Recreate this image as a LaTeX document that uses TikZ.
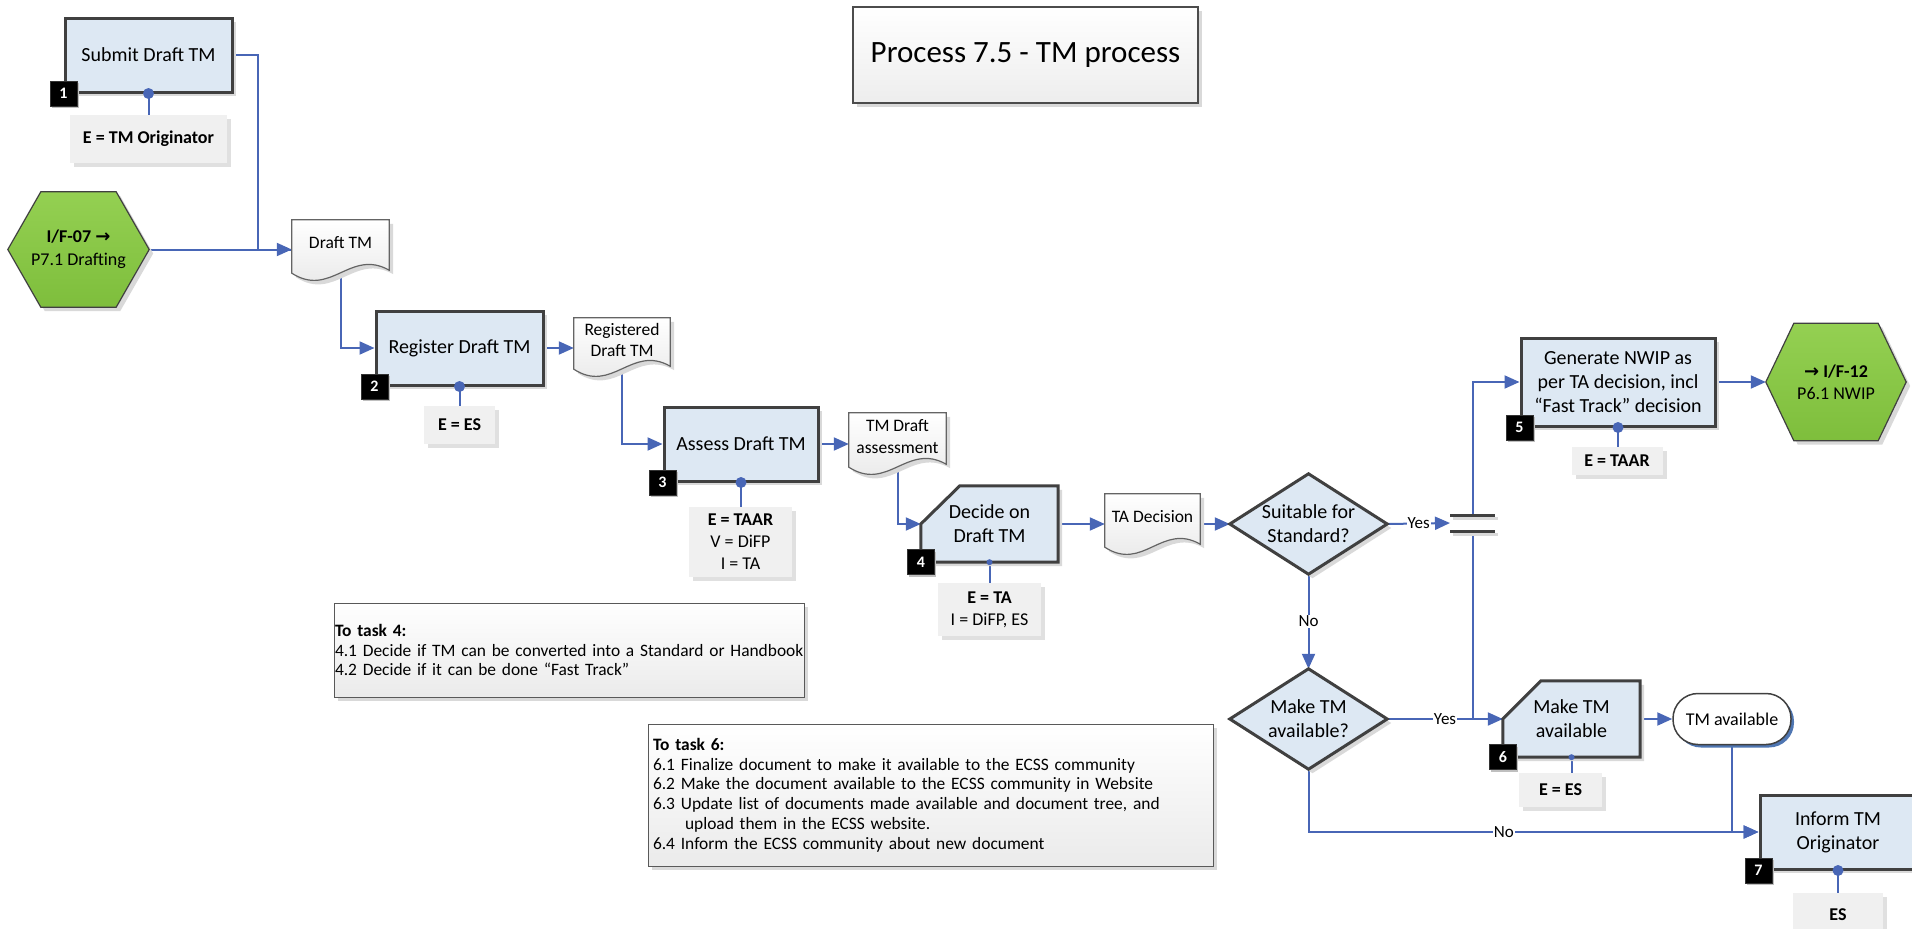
\documentclass[tikz,border=0pt]{standalone}
\usepackage{fontspec}
\setmainfont{Carlito}
\newfontfamily\dejavu{DejaVu Sans}
\usetikzlibrary{calc,shadows,arrows.meta}
\pgfdeclarelayer{bg}\pgfdeclarelayer{mid}\pgfsetlayers{bg,mid,main}
\definecolor{boxblue}{RGB}{221,232,243}
\definecolor{edgegray}{RGB}{64,64,64}
\definecolor{connblue}{RGB}{72,102,182}
\definecolor{rolefill}{RGB}{240,240,240}
\definecolor{hexgreen}{RGB}{148,208,82}
\definecolor{hexdark}{RGB}{126,190,60}
\definecolor{docedge}{RGB}{100,100,100}
\definecolor{termshadow}{RGB}{79,118,178}
\newcommand\fs[2]{\fontsize{#1}{#2}\selectfont}
\tikzset{
 shd/.style={drop shadow={shadow xshift=4pt,shadow yshift=-4pt,fill=black!15,opacity=1}},
 pbox/.style={rectangle, fill=boxblue, draw=edgegray, line width=3pt, shd, inner sep=0pt, align=center, font=\fs{20}{24}},
 ptext/.style={rectangle, inner sep=0pt, align=center, font=\fs{20}{24}},
 pshape/.style={fill=boxblue, draw=edgegray, line width=3pt, shd, line join=miter},
 rolebox/.style={rectangle, fill=rolefill, inner sep=0pt, align=center, font=\fs{18}{22}, drop shadow={shadow xshift=4pt,shadow yshift=-4pt,fill=black!12,opacity=1}},
 numbadge/.style={rectangle, fill=black, draw=black!80, line width=0.6pt, text=white, font=\bfseries\fs{16}{18}, minimum width=27pt, minimum height=25pt, inner sep=0pt, drop shadow={shadow xshift=2pt,shadow yshift=-2pt,fill=black!25,opacity=1}},
 dtext/.style={rectangle, inner sep=0pt, align=center, font=\fs{17.5}{21.5}},
 docshape/.style={top color=white, bottom color=black!10, draw=docedge, line width=1.2pt, shd},
 hexshape/.style={top color=hexgreen, bottom color=hexdark, draw=black!75, line width=1.2pt, shd},
 conn/.style={draw=connblue, line width=2pt},
 arr/.style={conn, -{Triangle[length=15pt,width=13pt]}},
 lbl/.style={fill=white, inner sep=1pt, font=\fs{17}{20}},
 notebox/.style={rectangle, draw=black!65, line width=1pt, top color=white, bottom color=black!8, shd, align=left, inner ysep=0pt, font=\fs{17.4}{19.8}},
 titlebox/.style={rectangle, draw=black!70, line width=1.2pt, top color=white, bottom color=black!7, shd, inner sep=0pt, font=\fs{31}{36}},
 term/.style={rectangle, rounded corners=25pt, draw=edgegray, line width=1.5pt, fill=white, inner sep=0pt, font=\fs{18}{22}, drop shadow={shadow xshift=3pt,shadow yshift=-3pt,fill=termshadow,opacity=1}},
}
\newcommand\mkdoc[1]{%
 \begin{pgfonlayer}{mid}
 \path[docshape] (#1.north west) -- (#1.north east) -- ($(#1.south east)+(0,4)$) .. controls ($(#1.south west)!0.6!(#1.south east)+(0,-18)$) and ($(#1.south west)!0.4!(#1.south east)+(0,32)$) .. ($(#1.south west)+(0,7)$) -- cycle;
 \end{pgfonlayer}}
\newcommand\mkhex[2]{%
 \begin{pgfonlayer}{mid}
 \path[hexshape] (#1.west) -- ($(#1.north west)+(#2,0)$) -- ($(#1.north east)+(-#2,0)$) -- (#1.east) -- ($(#1.south east)+(-#2,0)$) -- ($(#1.south west)+(#2,0)$) -- cycle;
 \end{pgfonlayer}}
\newcommand\mkdiam[1]{%
 \begin{pgfonlayer}{mid}
 \path[pshape] (#1.west) -- (#1.north) -- (#1.east) -- (#1.south) -- cycle;
 \end{pgfonlayer}}
\newcommand\mkchamf[2]{%
 \begin{pgfonlayer}{mid}
 \path[pshape] (#1.south west) -- (#1.west) -- ($(#1.north west)+(#2,0)$) -- (#1.north east) -- (#1.south east) -- cycle;
 \end{pgfonlayer}}
\begin{document}
\begin{tikzpicture}[x=1pt,y=-1pt]
\useasboundingbox (0,0) rectangle (1912,929);
\clip (0,0) rectangle (1912,929);

% title
\node[titlebox, minimum width=345, minimum height=96] (title) at (1025.5,55) {Process 7.5 - TM process};

% task 1
\node[pbox, minimum width=167, minimum height=74] (n1) at (148.5,55) {Submit Draft TM};
\node[rolebox, minimum width=157, minimum height=48] (r1) at (148.5,139) {\bfseries E = TM Originator};
\node[ptext, font=\fs{18}{23}, minimum width=141, minimum height=115] (h1) at (78.5,249.5) {\textbf{I/F-07 {\dejavu →}}\\P7.1 Drafting};
\mkhex{h1}{33}
\node[dtext, minimum width=97, minimum height=46] (d1) at (340.5,243) {Draft TM};
\mkdoc{d1}

% task 2
\node[pbox, minimum width=167, minimum height=74] (n2) at (459.5,348) {Register Draft TM};
\node[rolebox, minimum width=71, minimum height=38] (r2) at (459.5,425) {\bfseries E = ES};
\node[dtext, minimum width=96, minimum height=44] (d2) at (622,340) {Registered\\Draft TM};
\mkdoc{d2}

% task 3
\node[pbox, minimum width=154, minimum height=74] (n3) at (741,444) {Assess Draft TM};
\node[rolebox, minimum width=103, minimum height=70] (r3) at (740.5,542) {\textbf{E = TAAR}\\V = DiFP\\I = TA};
\node[dtext, minimum width=97, minimum height=47] (d3) at (897.5,436.5) {TM Draft\\assessment};
\mkdoc{d3}

% task 4
\node[ptext, minimum width=137, minimum height=76] (n4) at (989.5,524) {Decide on\\Draft TM};
\mkchamf{n4}{39}
\node[rolebox, minimum width=103, minimum height=53] (r4) at (989.5,609.5) {\textbf{E = TA}\\I = DiFP, ES};
\node[dtext, minimum width=95, minimum height=46] (d4) at (1152.5,517) {TA Decision};
\mkdoc{d4}

% decisions
\node[ptext, minimum width=157, minimum height=100] (s1) at (1308.5,524) {Suitable for\\Standard?};
\mkdiam{s1}
\node[ptext, minimum width=157, minimum height=100] (s2) at (1308.5,719) {Make TM\\available?};
\mkdiam{s2}

% task 5
\node[pbox, minimum width=194, minimum height=88] (n5) at (1618,382) {Generate NWIP as\\per TA decision, incl\\“Fast Track” decision};
\node[rolebox, minimum width=91, minimum height=28] (r5) at (1617,461) {\bfseries E = TAAR};
\node[ptext, font=\fs{18}{22}, minimum width=140, minimum height=117] (h2) at (1836,382) {\textbf{{\dejavu →} I/F-12}\\P6.1 NWIP};
\mkhex{h2}{28}

% task 6
\node[ptext, minimum width=137, minimum height=76] (n6) at (1571.5,719) {Make TM\\available};
\mkchamf{n6}{38}
\node[rolebox, minimum width=83, minimum height=34] (r6) at (1560.5,790) {\bfseries E = ES};
\node[term, minimum width=118, minimum height=51] (t1) at (1732,719) {TM available};

% task 7
\node[pbox, minimum width=156, minimum height=74] (n7) at (1838,832) {Inform TM\\Originator};
\node[rolebox, minimum width=90, minimum height=44] (r7) at (1838,915) {\bfseries ES};

% notes
\node[notebox, minimum height=94, text width=468, inner xsep=1] (note4) at (569,650) {\textbf{To task 4:}\\\mbox{4.1 Decide if TM can be converted into a Standard or Handbook}\\4.2 Decide if it can be done “Fast Track”};
\node[notebox, minimum height=142, text width=555, inner xsep=5] (note6) at (930.5,795) {\textbf{To task 6:}\\6.1 Finalize document to make it available to the ECSS community\\6.2 Make the document available to the ECSS community in Website\\6.3 Update list of documents made available and document tree, and\\\hspace*{32pt}upload them in the ECSS website.\\6.4 Inform the ECSS community about new document};

% badges
\node[numbadge] (b1) at (n1.south west) {1};
\node[numbadge] (b2) at (n2.south west) {2};
\node[numbadge] (b3) at (n3.south west) {3};
\node[numbadge] (b4) at (n4.south west) {4};
\node[numbadge] (b5) at (n5.south west) {5};
\node[numbadge] (b6) at (n6.south west) {6};
\node[numbadge] (b7) at (n7.south west) {7};

% dots
\fill[connblue] (n1.south) circle[radius=5.5];
\fill[connblue] (n2.south) circle[radius=5.5];
\fill[connblue] (n3.south) circle[radius=5.5];
\fill[connblue] (n4.south) circle[radius=3];
\fill[connblue] (n5.south) circle[radius=5.5];
\fill[connblue] (n6.south) circle[radius=3];
\fill[connblue] (n7.south) circle[radius=5.5];

% junction bars
\coordinate (bartop) at (1473,515);
\coordinate (barbot) at (1473,531);
\coordinate (barmid) at (1450,523);
\draw[line width=3pt, black!15] ($(bartop)+(-20,3)$) -- ($(bartop)+(25,3)$);
\draw[line width=3pt, black!15] ($(barbot)+(-20,3)$) -- ($(barbot)+(25,3)$);
\draw[line width=3pt, edgegray] ($(bartop)+(-23,0)$) -- ($(bartop)+(22,0)$);
\draw[line width=3pt, edgegray] ($(barbot)+(-23,0)$) -- ($(barbot)+(22,0)$);

% connectors
\begin{pgfonlayer}{bg}
\draw[arr] (n1.east) -- ++(24,0) |- (h1.east -| d1.west);
\draw[conn] (h1.east) -- (h1.east -| d1.west);
\draw[conn] (n1.south) -- (r1.north);
\draw[arr] (d1.south) |- (n2.west);
\draw[conn] (n2.south) -- (r2.north);
\draw[arr] (n2.east) -- (n2.east -| d2.west);
\draw[arr] (d2.south) |- (n3.west);
\draw[conn] (n3.south) -- (n3.south |- r3.north);
\draw[arr] (n3.east) -- (n3.east -| d3.west);
\draw[arr] (d3.south) |- (n4.west);
\draw[conn] (n4.south) -- (r4.north);
\draw[arr] (n4.east) -- (n4.east -| d4.west);
\draw[arr] (s1.west -| d4.east) -- (s1.west);
\draw[arr] (s1.east) -- node[lbl]{Yes} (barmid);
\draw[arr] (s1.south) -- node[lbl]{No} (s2.north);
\draw[arr] (bartop) |- (n5.west);
\draw[conn] (barbot) |- (n6.west);
\draw[arr] (s2.east) -- node[lbl]{Yes} (n6.west);
\draw[arr] (s2.south) |- node[lbl,pos=0.717]{No} (n7.west);
\draw[conn] (n5.south) -- (n5.south |- r5.north);
\draw[arr] (n5.east) -- (h2.west);
\draw[conn] (n6.south) -- (n6.south |- r6.north);
\draw[arr] (n6.east) -- (t1.west);
\draw[arr] (t1.south) |- (n7.west);
\draw[conn] (n7.south) -- (r7.north);
\end{pgfonlayer}
\end{tikzpicture}
\end{document}
